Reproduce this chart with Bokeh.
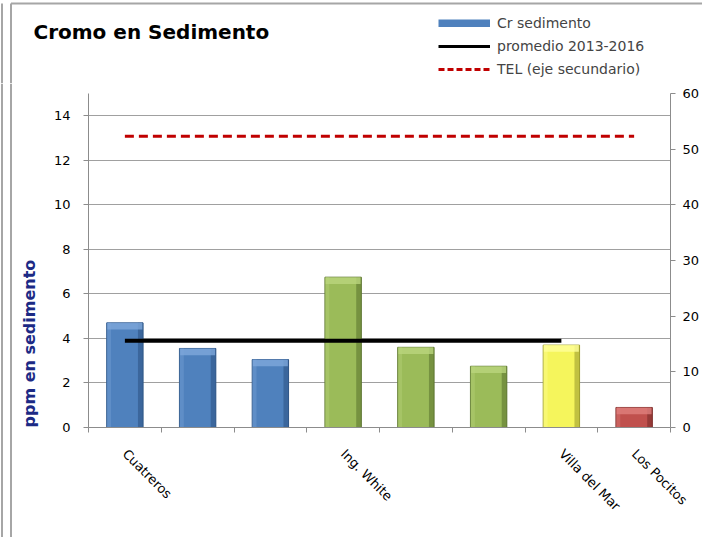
import math
from bokeh.plotting import figure
from bokeh.layouts import column, row
from bokeh.models import (Range1d, LinearAxis, FixedTicker, Legend, LegendItem,
                          ColumnDataSource, Label)
from bokeh.embed import file_html
from bokeh.resources import INLINE

# ---- data ----
stations = ["Cuatreros", "", "", "Ing. White", "", "", "Villa del Mar", "Los Pocitos"]
cr_sedimento = [4.7, 3.55, 3.05, 6.75, 3.6, 2.75, 3.7, 0.9]
promedio_2013_2016 = [3.9, 3.9, 3.9, 3.9, 3.9, 3.9, 3.9]
tel_secundario = [52.3, 52.3, 52.3, 52.3, 52.3, 52.3, 52.3, 52.3]
left_ticks = [0, 2, 4, 6, 8, 10, 12, 14]
right_ticks = [0, 10, 20, 30, 40, 50, 60]
title_text = "Cromo en Sedimento"
y_title = "ppm en sedimento"
legend_labels = ["Cr sedimento", "promedio 2013-2016", "TEL (eje secundario)"]

# ---- styles ----
bar_fill = ["#4F81BD", "#4F81BD", "#4F81BD", "#9BBB59", "#9BBB59", "#9BBB59", "#F5F55C", "#C0504D"]
bar_light = ["#7EA7DB", "#7EA7DB", "#7EA7DB", "#BAD67D", "#BAD67D", "#BAD67D", "#FFFF9A", "#DE807D"]
bar_dark = ["#2E5586", "#2E5586", "#2E5586", "#5D7631", "#5D7631", "#5D7631", "#9E9E2E", "#7A2C2A"]
FONT = "DejaVu Sans"
TEL_COLOR = "#C00000"
BORDER = "#A6A6A6"
NAN = float("nan")

n = len(stations)
xc = [i + 0.5 for i in range(n)]
W = 0.5

# ================= header figure (title + legend) =================
HW, HH = 702, 83
hdr = figure(width=HW, height=HH, output_backend="svg", toolbar_location=None,
             x_range=Range1d(0, HW), y_range=Range1d(HH, 0),
             x_axis_type=None, y_axis_type=None,
             min_border_left=0, min_border_right=0, min_border_top=0, min_border_bottom=0)
hdr.grid.visible = False
hdr.outline_line_color = None
hdr.add_layout(Label(x=33, y=31, text=title_text, text_font=FONT, text_font_size="20px",
                     text_font_style="bold", text_color="black",
                     text_baseline="middle", text_align="left"))
# chart border (top-left corner)
hdr.line([10.5, HW], [3, 3], line_color=BORDER, line_width=2)
hdr.line([10.5, 10.5], [3, HH], line_color=BORDER, line_width=2)
hdr.line([1.5, 1.5], [3, HH], line_color=BORDER, line_width=2)

r_bar = hdr.line(x=[NAN, NAN], y=[NAN, NAN], line_color=bar_fill[0], line_width=8)
r_prom = hdr.line(x=[NAN, NAN], y=[NAN, NAN], line_color="black", line_width=3)
r_tel = hdr.line(x=[NAN, NAN], y=[NAN, NAN], line_color=TEL_COLOR, line_width=3, line_dash="6 3")
leg = Legend(items=[LegendItem(label=legend_labels[0], renderers=[r_bar]),
                    LegendItem(label=legend_labels[1], renderers=[r_prom]),
                    LegendItem(label=legend_labels[2], renderers=[r_tel])],
             location=(438, 4), orientation="vertical",
             glyph_width=52, glyph_height=8, label_height=20, spacing=3,
             label_standoff=7, padding=0, margin=0,
             border_line_color=None, background_fill_alpha=0,
             label_text_font=FONT, label_text_font_size="14px")
hdr.add_layout(leg, "center")

# ================= left strip (border + y title) =================
BW, MH = 45, 537 - HH
bfig = figure(width=BW, height=MH, output_backend="svg", toolbar_location=None,
              x_range=Range1d(0, BW), y_range=Range1d(0, MH),
              x_axis_type=None, y_axis_type=None,
              min_border_left=0, min_border_right=0, min_border_top=0, min_border_bottom=0)
bfig.grid.visible = False
bfig.outline_line_color = None
bfig.line([10.5, 10.5], [0, MH], line_color=BORDER, line_width=2)
bfig.line([1.5, 1.5], [0, MH], line_color=BORDER, line_width=2)
bfig.add_layout(Label(x=29, y=110, text=y_title, angle=90, angle_units="deg",
                      text_font=FONT, text_font_size="16px", text_font_style="bold",
                      text_color="#1C2A85", text_align="left", text_baseline="middle"))

# ================= main chart =================
p = figure(width=702 - BW, height=MH, output_backend="svg", toolbar_location=None,
           x_range=Range1d(0, n), y_range=Range1d(0, 15),
           min_border_left=88 - BW, min_border_right=31, min_border_top=10, min_border_bottom=110)
p.extra_y_ranges = {"tel": Range1d(0, 60)}
p.outline_line_color = None
p.background_fill_color = "white"
p.border_fill_color = "white"

p.xaxis.ticker = FixedTicker(ticks=xc, minor_ticks=list(range(n + 1)))
p.xaxis.major_label_overrides = {x: s for x, s in zip(xc, stations)}
p.xaxis.major_label_orientation = -math.pi / 4
p.xaxis.major_tick_out = 0
p.xaxis.major_tick_in = 0
p.xaxis.minor_tick_out = 5
p.xaxis.minor_tick_in = 0
p.xaxis.major_label_standoff = 19

p.yaxis.ticker = FixedTicker(ticks=left_ticks)
p.yaxis.major_tick_out = 5
p.yaxis.major_tick_in = 0
p.yaxis.major_label_standoff = 13

ax_r = LinearAxis(y_range_name="tel", ticker=FixedTicker(ticks=right_ticks))
ax_r.major_tick_out = 5
ax_r.major_tick_in = 0
ax_r.major_label_standoff = 7
p.add_layout(ax_r, "right")

for ax in [p.xaxis[0], p.yaxis[0], ax_r]:
    ax.axis_line_color = "#8C8C8C"
    ax.major_tick_line_color = "#8C8C8C"
    ax.minor_tick_line_color = "#8C8C8C" if ax is p.xaxis[0] else None
    ax.major_label_text_font = FONT
    ax.major_label_text_font_size = "13px"
    ax.major_label_text_color = "black"

p.xgrid.visible = False
p.ygrid.ticker = FixedTicker(ticks=left_ticks)
p.ygrid.grid_line_color = "#A0A0A0"

# bars with a simple bevel look
src = ColumnDataSource(dict(x=xc, top=cr_sedimento, fill=bar_fill, light=bar_light, dark=bar_dark))
p.vbar(x="x", top="top", bottom=0, width=W, source=src,
       fill_color="fill", line_color="dark", line_width=1)
edge = 0.3
src_b = ColumnDataSource(dict(
    x=xc, xl=[x - W / 2 + 0.03 for x in xc], xr=[x + W / 2 - 0.035 for x in xc],
    top=cr_sedimento, band=[max(t - edge, 0) for t in cr_sedimento],
    light=bar_light, dark=bar_dark))
p.vbar(x="xr", top="top", bottom=0, width=0.07, source=src_b,
       fill_color="dark", fill_alpha=0.6, line_color=None)
p.vbar(x="xl", top="top", bottom=0, width=0.06, source=src_b,
       fill_color="light", fill_alpha=0.35, line_color=None)
p.vbar(x="x", top="top", bottom="band", width=W - 0.02, source=src_b,
       fill_color="light", fill_alpha=0.8, line_color=None)

# promedio line
p.line(xc[:len(promedio_2013_2016)], promedio_2013_2016, line_color="black", line_width=4)

# TEL line (secondary axis)
p.line(xc, tel_secundario, y_range_name="tel", line_color=TEL_COLOR,
       line_width=3, line_dash="9 5")

layout = column(row(hdr), row(row(bfig), p, spacing=0), spacing=0)
open("out.html", "w").write(file_html(layout, INLINE))
